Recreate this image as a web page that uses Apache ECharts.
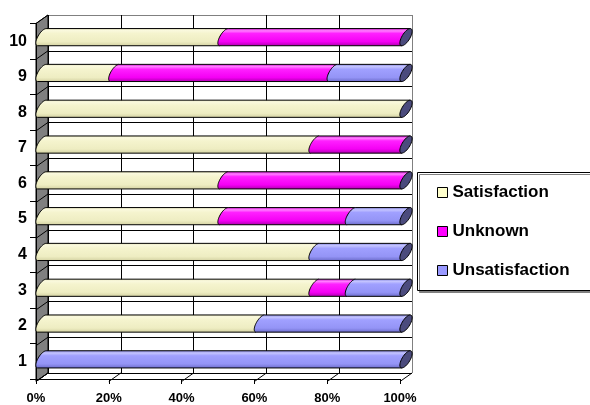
<!DOCTYPE html>
<html>
<head>
<meta charset="utf-8">
<script src="https://cdn.jsdelivr.net/npm/echarts@6/dist/echarts.min.js"></script>
<style>html,body{margin:0;padding:0;background:#fff}#c{width:590px;height:405px}</style>
</head>
<body>
<div id="c"></div>
<script>
// ---- data ----
const categories = ['1','2','3','4','5','6','7','8','9','10'];
const satisfaction   = [0, 60, 75, 75, 50, 50, 75, 100, 20, 50];
const unknown        = [0,  0, 10,  0, 35, 50, 25,   0, 60, 50];
const unsatisfaction = [100, 40, 15, 25, 15, 0,  0,   0, 20,  0];
const seriesNames = ['Satisfaction', 'Unknown', 'Unsatisfaction'];
const xTicks = [0, 20, 40, 60, 80, 100];

// ---- layout ----
const FX = 36, FY = 23.5, W = 364, H = 358, DX = 12, DY = -8.5;
const FONT = 'Arial, "Liberation Sans", sans-serif';
const LEG_X = 417, LEG_Y = 172, LEG_H = 118;

const colors = ['#FFFFCC', '#FF00FF', '#9999FF'];
const grads = [
  [[0,'#DCDAA8'],[0.12,'#FAF9DE'],[0.3,'#F5F4CE'],[0.75,'#EEEDC2'],[1,'#D2D0A0']],
  [[0,'#C800C8'],[0.15,'#FF80FF'],[0.3,'#FF20FF'],[0.75,'#F400F4'],[1,'#A800A8']],
  [[0,'#7A7AD8'],[0.15,'#C4C4FF'],[0.3,'#A0A0FF'],[0.75,'#9494F6'],[1,'#6A6AC8']]
];
const allSeries = [satisfaction, unknown, unsatisfaction];

function buildData(si) {
  return categories.map((c, i) => {
    let start = 0;
    for (let k = 0; k < si; k++) start += allSeries[k][i];
    return [i, start, start + allSeries[si][i]];
  });
}

function ellipsePts(cx, cy, rx, ry, sh, t0, t1, n) {
  const pts = [];
  for (let j = 0; j <= n; j++) {
    const t = (t0 + (t1 - t0) * j / n) * Math.PI / 180;
    pts.push([cx + rx * Math.cos(t) - sh * Math.sin(t), cy + ry * Math.sin(t)]);
  }
  return pts;
}

function makeRender(si) {
  return function (params, api) {
    const cat = api.value(0), s = api.value(1), e = api.value(2);
    if (e - s <= 0) return null;
    const p0 = api.coord([s, cat]);
    const p1 = api.coord([e, cat]);
    const band = api.size([0, 1])[1];
    const ry = band * 0.24, rx = 4.5, sh = 4.2;
    const cy = p0[1];
    const pts = ellipsePts(p0[0], cy, rx, ry, sh, 90, 270, 24);
    pts.push([p1[0] + sh, cy - ry]);
    pts.push([p1[0] - sh, cy + ry]);
    const children = [{
      type: 'polygon',
      shape: { points: pts },
      style: {
        fill: { type: 'linear', x: 0, y: 0, x2: 0, y2: 1,
          colorStops: grads[si].map(g => ({ offset: g[0], color: g[1] })) },
        stroke: '#000', lineWidth: 1
      }
    }];
    if (e >= 99.999) {
      children.push({
        type: 'polygon',
        shape: { points: ellipsePts(p1[0], cy, rx, ry, sh, 0, 360, 36) },
        style: { fill: '#4B4B7D', stroke: '#000', lineWidth: 1 }
      });
    }
    return { type: 'group', children: children };
  };
}

const chart = echarts.init(document.getElementById('c'), null, { renderer: 'canvas' });

// decorations: side wall, floor, legend frame
const graphics = [];
graphics.push({
  type: 'polygon', z: 1,
  shape: { points: [[FX, FY], [FX + DX, FY + DY], [FX + DX, FY + DY + H], [FX, FY + H]] },
  style: { fill: '#808080', stroke: '#000', lineWidth: 1 }
});
for (let i = 0; i <= categories.length; i++) {
  const y = FY + i * H / categories.length;
  graphics.push({ type: 'line', z: 1, shape: { x1: FX, y1: y, x2: FX + DX, y2: y + DY },
    style: { stroke: '#000', lineWidth: 1 } });
}
for (let k = 0; k < xTicks.length; k++) {
  const x = FX + k * W / (xTicks.length - 1);
  graphics.push({ type: 'line', z: 1, shape: { x1: x, y1: FY + H, x2: x + DX, y2: FY + H + DY },
    style: { stroke: '#000', lineWidth: 1 } });
}
graphics.push({
  type: 'rect', z: 1,
  shape: { x: LEG_X + 0.5, y: LEG_Y + 0.5, width: 260, height: LEG_H },
  style: { fill: '#fff', stroke: '#000', lineWidth: 1,
    shadowColor: '#808080', shadowBlur: 0, shadowOffsetX: 2, shadowOffsetY: 2 }
});

const hiddenAxis = { axisLine: { show: false }, axisTick: { show: false }, axisLabel: { show: false } };

const option = {
  animation: false,
  backgroundColor: '#fff',
  grid: [
    { left: FX + DX, top: FY + DY, width: W, height: H },
    { left: FX, top: FY, width: W, height: H },
    { left: FX + DX / 2, top: FY + DY / 2, width: W, height: H }
  ],
  xAxis: [
    Object.assign({ type: 'value', gridIndex: 0, min: 0, max: 100, interval: 20,
      splitLine: { show: true, lineStyle: { color: ['#000','#000','#000','#000','#000','#808080'], width: 1 } } }, hiddenAxis),
    { type: 'value', gridIndex: 1, min: 0, max: 100, interval: 20, z: 2,
      axisLine: { show: true, lineStyle: { color: '#000', width: 1 } },
      axisTick: { show: true, length: 5, lineStyle: { color: '#000' } },
      axisLabel: { formatter: '{value}%', color: '#000', fontWeight: 'bold', fontSize: 13, fontFamily: FONT, margin: 13 },
      splitLine: { show: false } },
    Object.assign({ type: 'value', gridIndex: 2, min: 0, max: 100, splitLine: { show: false } }, hiddenAxis)
  ],
  yAxis: [
    Object.assign({ type: 'category', gridIndex: 0, data: categories,
      splitLine: { show: true, lineStyle: { color: ['#000','#000','#000','#000','#000','#000','#000','#000','#000','#000','#808080'], width: 1 } } }, hiddenAxis),
    { type: 'category', gridIndex: 1, data: categories, z: 2,
      axisLine: { show: true, lineStyle: { color: '#000', width: 1 } },
      axisTick: { show: true, length: 6, lineStyle: { color: '#000' } },
      axisLabel: { color: '#000', fontWeight: 'bold', fontSize: 16, fontFamily: FONT, margin: 9 },
      splitLine: { show: false } },
    Object.assign({ type: 'category', gridIndex: 2, data: categories, splitLine: { show: false } }, hiddenAxis)
  ],
  legend: {
    orient: 'vertical', left: LEG_X, top: LEG_Y, z: 4,
    padding: [12, 10, 12, 20],
    itemGap: 22, itemWidth: 10, itemHeight: 10, icon: 'rect',
    itemStyle: { borderColor: '#000', borderWidth: 1 },
    textStyle: { color: '#000', fontWeight: 'bold', fontSize: 17, fontFamily: FONT },
    data: seriesNames
  },
  graphic: graphics,
  series: seriesNames.map((name, si) => ({
    type: 'custom', name: name, xAxisIndex: 2, yAxisIndex: 2, z: 5,
    itemStyle: { color: colors[si] },
    encode: { x: [1, 2], y: 0 },
    renderItem: makeRender(si),
    data: buildData(si)
  }))
};
chart.setOption(option);
</script>
</body>
</html>
